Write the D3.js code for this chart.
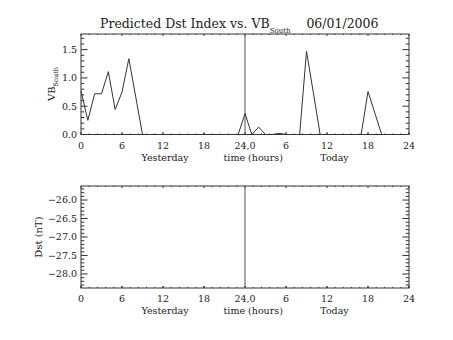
<!DOCTYPE html>
<html>
<head>
<meta charset="utf-8">
<script src="https://cdn.jsdelivr.net/npm/d3@7"></script>
<style>
  html, body { margin: 0; padding: 0; background: #fff; }
  svg text { font-family: "DejaVu Serif", "Liberation Serif", serif; fill: #222; }
</style>
</head>
<body>
<svg id="chart" width="453" height="340"></svg>
<script>
// Hourly samples across yesterday (0-24) and today (24-48)
const hours = d3.range(0, 49);
const vbSouth = [
  0.77, 0.25, 0.72, 0.72, 1.11, 0.44, 0.75, 1.34, 0.67, 0.00,
  0.00, 0.00, 0.00, 0.00, 0.00, 0.00, 0.00, 0.00, 0.00, 0.00,
  0.00, 0.00, 0.00, 0.00, 0.37, 0.00, 0.13, 0.00, 0.00, 0.02,
  0.00, 0.00, 0.00, 1.47, 0.74, 0.00, 0.00, 0.00, 0.00, 0.00,
  0.00, 0.00, 0.76, 0.38, 0.00, 0.00, 0.00, 0.00, 0.00
];
// No Dst prediction available for this date
const dstValues = [];

const xTickValues = [0, 6, 12, 18, 24, 30, 36, 42, 48];
const xTickLabels = ["0", "6", "12", "18", "24,0", "6", "12", "18", "24"];
const vbTicks = [0.0, 0.5, 1.0, 1.5];
const dstTicks = [-26.0, -26.5, -27.0, -27.5, -28.0];
const dayLabels = ["Yesterday", "time (hours)", "Today"];
const dayLabelHours = [12.3, 25.2, 37.1];

const svg = d3.select("#chart");
const left = 81, right = 409;
const ink = "#333";

const x = d3.scaleLinear().domain([0, 48]).range([left, right]);

function panel(top, bottom, yDomain, majors, minorStep, fmt) {
  const y = d3.scaleLinear().domain(yDomain).range([bottom, top]);
  const g = svg.append("g");
  const h = bottom - top, w = right - left;
  const yMajLen = 0.02 * w, xMajLen = 0.02 * h;

  // frame
  g.append("rect").attr("x", left).attr("y", top)
    .attr("width", w).attr("height", h)
    .attr("fill", "none").attr("stroke", ink).attr("stroke-width", 1);

  // x ticks (top and bottom, inward)
  const xMinor = d3.range(0, 48.001, 1.2);
  xMinor.forEach(v => {
    const isMajor = Math.abs(v / 6 - Math.round(v / 6)) < 1e-6;
    const len = isMajor ? xMajLen : xMajLen / 2;
    [[bottom, -len], [top, len]].forEach(([yy, d]) => {
      g.append("line").attr("x1", x(v)).attr("x2", x(v))
        .attr("y1", yy).attr("y2", yy + d)
        .attr("stroke", ink).attr("stroke-width", 1);
    });
  });
  xTickValues.forEach(v => {
    g.append("line").attr("x1", x(v)).attr("x2", x(v))
      .attr("y1", bottom).attr("y2", bottom - xMajLen)
      .attr("stroke", ink);
  });

  // y ticks (left and right, inward)
  const lo = Math.ceil(yDomain[0] / minorStep - 1e-6) * minorStep;
  d3.range(lo, yDomain[1] + 1e-9, minorStep).forEach(v => {
    const isMajor = majors.some(m => Math.abs(m - v) < 1e-6);
    const len = isMajor ? yMajLen : yMajLen / 2;
    [[left, len], [right, -len]].forEach(([xx, d]) => {
      g.append("line").attr("x1", xx).attr("x2", xx + d)
        .attr("y1", y(v)).attr("y2", y(v))
        .attr("stroke", ink).attr("stroke-width", 1);
    });
  });

  // y tick labels
  majors.forEach(v => {
    g.append("text").attr("x", left - 4).attr("y", y(v)).attr("dy", "0.35em")
      .attr("text-anchor", "end").style("font-size", "9.5px")
      .text(fmt(v));
  });

  // x tick labels
  xTickValues.forEach((v, i) => {
    g.append("text").attr("x", x(v)).attr("y", bottom + 11).attr("dy", "0.35em")
      .attr("text-anchor", "middle").style("font-size", "9.5px")
      .text(xTickLabels[i]);
  });
  dayLabels.forEach((t, i) => {
    g.append("text").attr("x", x(dayLabelHours[i])).attr("y", bottom + 23).attr("dy", "0.35em")
      .attr("text-anchor", "middle").style("font-size", "9.5px")
      .text(t);
  });

  // day boundary
  g.append("line").attr("x1", x(24)).attr("x2", x(24))
    .attr("y1", top).attr("y2", bottom)
    .attr("stroke", "#555").attr("stroke-width", 1);

  return { g, y };
}

const fmt1 = v => d3.format(".1f")(v).replace("-", "\u2212");

// Top panel: VB south
const p1 = panel(34, 134.5, [0, 1.776], vbTicks, 0.1, fmt1);
p1.g.append("path")
  .datum(hours.map((hr, i) => [hr, vbSouth[i]]))
  .attr("fill", "none").attr("stroke", ink).attr("stroke-width", 1)
  .attr("d", d3.line().x(d => x(d[0])).y(d => p1.y(d[1])));

// Bottom panel: Dst
const p2 = panel(186, 288, [-28.38, -25.62], dstTicks, 0.1, fmt1);
if (dstValues.length) {
  p2.g.append("path")
    .datum(dstValues)
    .attr("fill", "none").attr("stroke", ink)
    .attr("d", d3.line().x((d, i) => x(i)).y(d => p2.y(d)));
}

// Title
const title = svg.append("text").attr("x", 100).attr("y", 28).style("font-size", "12.5px");
title.append("tspan").text("Predicted Dst Index vs. VB");
title.append("tspan").attr("dy", 5).style("font-size", "7px").text("South");
title.append("tspan").attr("dy", -5).text("\u00a0\u00a0\u00a0\u00a006/01/2006");

// Y axis titles
const yt1 = svg.append("text")
  .attr("transform", "translate(55,84) rotate(-90)")
  .attr("text-anchor", "middle").style("font-size", "10px");
yt1.append("tspan").text("VB");
yt1.append("tspan").attr("dy", 3).style("font-size", "6.5px").text("South");

svg.append("text")
  .attr("transform", "translate(42,237) rotate(-90)")
  .attr("text-anchor", "middle").style("font-size", "10px")
  .text("Dst (nT)");
</script>
</body>
</html>
